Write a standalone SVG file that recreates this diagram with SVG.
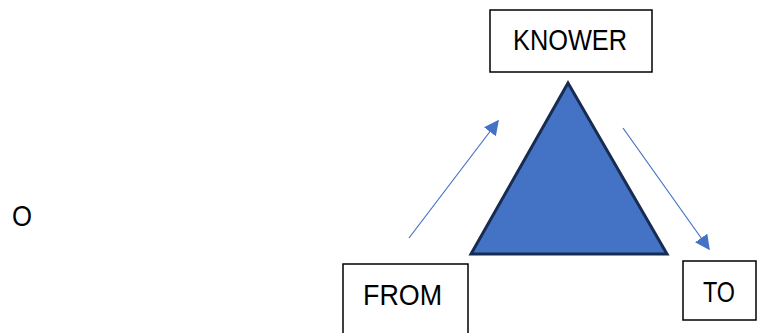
<svg xmlns="http://www.w3.org/2000/svg" width="757" height="333" viewBox="0 0 757 333">
<defs>
<style>
.box{fill:#fff;stroke:#000;stroke-width:1.5}
.lbl{font-family:"Liberation Sans",Arial,sans-serif;font-size:29px;fill:#000}
.conn{stroke:#4472C4;stroke-width:1.2;fill:none;marker-end:url(#ah)}
</style>
<marker id="ah" viewBox="0 0 10 10" refX="9" refY="5" markerWidth="15" markerHeight="15" markerUnits="userSpaceOnUse" orient="auto">
<path d="M0,0 L10,5 L0,10 z" fill="#4472C4"/>
</marker>
</defs>
<rect width="757" height="333" fill="#fff"/>
<g id="o-label"><text class="lbl" x="12" y="226" textLength="20" lengthAdjust="spacingAndGlyphs">O</text></g>
<g id="triangle"><polygon points="568,83 471,254 667,254" fill="#4472C4" stroke="#172C51" stroke-width="3" stroke-linejoin="miter"/></g>
<g id="knower"><rect class="box" x="490" y="10" width="162" height="62"/><text class="lbl" x="513" y="50" textLength="114" lengthAdjust="spacingAndGlyphs">KNOWER</text></g>
<g id="from"><rect class="box" x="343" y="264" width="125" height="80"/><text class="lbl" x="363" y="305" textLength="79" lengthAdjust="spacingAndGlyphs">FROM</text></g>
<g id="to"><rect class="box" x="683" y="261" width="73" height="59"/><text class="lbl" x="703" y="302" textLength="32" lengthAdjust="spacingAndGlyphs">TO</text></g>
<g id="connectors">
<line class="conn" x1="409" y1="238" x2="498" y2="121"/>
<line class="conn" x1="623" y1="128" x2="709" y2="249"/>
</g>
</svg>
